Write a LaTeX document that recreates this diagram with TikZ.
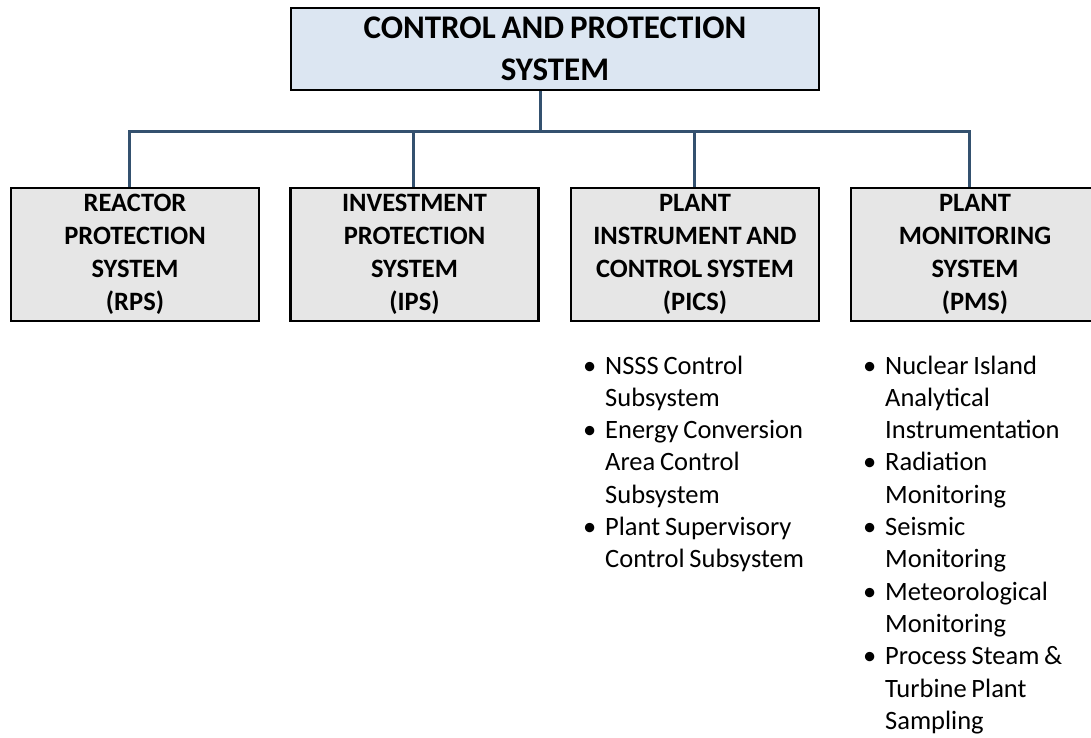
\documentclass[tikz,border=0pt]{standalone}
\usepackage{fontspec}
\setmainfont{Carlito}[WordSpace=0.8]
\definecolor{topfill}{HTML}{DCE6F2}
\definecolor{boxfill}{HTML}{E6E6E6}
\definecolor{connc}{HTML}{34516F}
\tikzset{
  topbox/.style={draw=black, line width=2.2pt, fill=topfill, minimum width=528pt, minimum height=82pt,
    align=center, inner sep=0pt, font=\fontsize{33}{42}\selectfont\bfseries},
  subbox/.style={draw=black, line width=2.2pt, fill=boxfill, minimum width=248pt, minimum height=133pt,
    text width=244pt, align=flush center, inner sep=0pt, font=\fontsize{26.5}{33}\selectfont\bfseries},
  listtext/.style={anchor=base west, inner sep=0pt, text width=240pt, align=flush left,
    font=\fontsize{26.5}{32.3}\selectfont},
  conn/.style={draw=connc, line width=3pt}
}
\newcommand{\bul}{\leavevmode\llap{\textbullet\hspace{9pt}}}
\begin{document}
\begin{tikzpicture}[x=1pt,y=-1pt]
\useasboundingbox (0,0) rectangle (1091,738);
\fill[white] (0,0) rectangle (1091,738);

\node[topbox] (top) at (555,49) {CONTROL AND PROTECTION\\SYSTEM};

\node[subbox] (rps)  at (135,254.5) {REACTOR\\PROTECTION\\SYSTEM\\(RPS)};
\node[subbox] (ips)  at (414.5,254.5) {INVESTMENT\\PROTECTION\\SYSTEM\\(IPS)};
\node[subbox] (pics) at (695,254.5) {PLANT\\INSTRUMENT AND\\CONTROL SYSTEM\\(PICS)};
\node[subbox] (pms)  at (975,254.5) {PLANT\\MONITORING\\SYSTEM\\(PMS)};

\coordinate (tR) at (129,132);
\coordinate (tI) at (413,132);
\coordinate (tP) at (694,132);
\coordinate (tM) at (969,132);
\coordinate (tT) at (540,132);

\draw[conn] (rps.north -| tR) -- (tR) -- (tM) -- (pms.north -| tM);
\draw[conn] (ips.north -| tI) -- (tI);
\draw[conn] (pics.north -| tP) -- (tP);
\draw[conn] (top.south -| tT) -- (tT);

\node[listtext] (picslist) at (605,374) {\bul NSSS Control\\Subsystem\\
\bul Energy Conversion\\Area Control\\Subsystem\\
\bul Plant Supervisory\\Control Subsystem};

\node[listtext] (pmslist) at (885,374) {\bul Nuclear Island\\Analytical\\Instrumentation\\
\bul Radiation\\Monitoring\\
\bul Seismic\\Monitoring\\
\bul Meteorological\\Monitoring\\
\bul Process Steam \&\\Turbine Plant\\Sampling};
\end{tikzpicture}
\end{document}
